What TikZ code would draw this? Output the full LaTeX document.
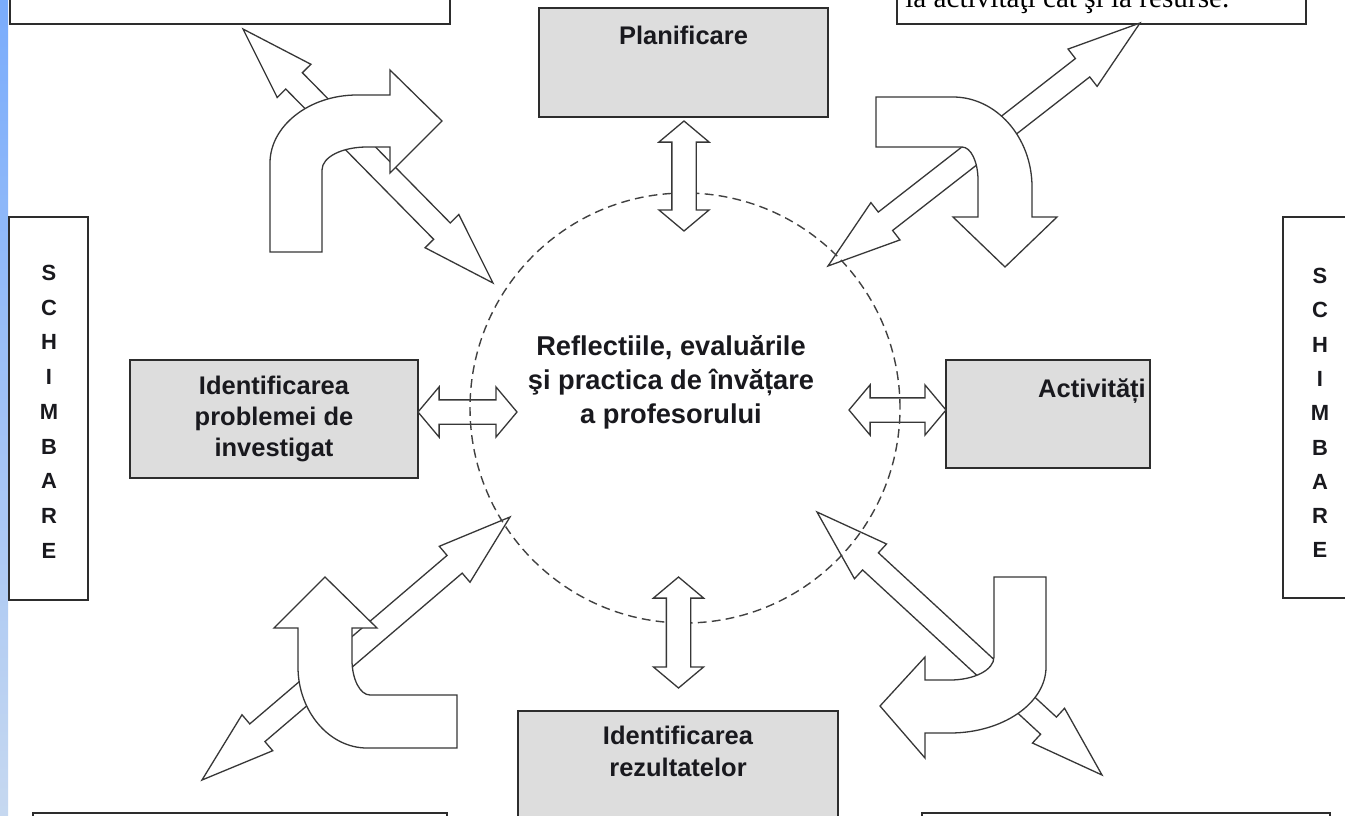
\documentclass[tikz,border=0pt]{standalone}
\usepackage{fontspec}
\setmainfont{Liberation Sans}
\newfontfamily\notefont{Liberation Serif}
\usetikzlibrary{shapes.arrows,calc,positioning}
\newlength{\pxlen}
\setlength{\pxlen}{0.02cm}
\definecolor{boxgray}{RGB}{221,221,221}
\definecolor{boxline}{RGB}{45,45,45}
\definecolor{arrowline}{RGB}{55,55,55}
\definecolor{ringgray}{RGB}{65,65,65}
\definecolor{textdark}{RGB}{25,25,30}
\definecolor{stripblue}{RGB}{122,172,252}
\definecolor{stripfade}{RGB}{198,216,240}
\newcommand{\linkarrow}[4]{%
    \path let \p1=($(#2)-(#1)$), \n1={veclen(\x1,\y1)} in
        (#1) -- node[#3, sloped, minimum height=\n1] (#4) {} (#2);%
}
\tikzset{
    outerbox/.style={draw=boxline, line width=1.5\pxlen, fill=white, inner sep=0pt},
    graybox/.style={draw=boxline, line width=1.5\pxlen, fill=boxgray, inner sep=0pt},
    boxtext/.style={font=\bfseries\fontsize{14.5}{17.9}\selectfont, text=textdark, align=center, inner sep=0pt},
    coretext/.style={font=\bfseries\fontsize{15.5}{19.3}\selectfont, text=textdark, align=center, inner sep=0pt},
    lettertext/.style={font=\bfseries\fontsize{12.5}{12.5}\selectfont, text=textdark, inner sep=0pt},
    corering/.style={circle, draw=ringgray, line width=1.4\pxlen, dash pattern=on 5pt off 3pt, minimum size=430\pxlen, inner sep=0pt},
    diagarrow/.style={double arrow, draw=arrowline, fill=white, line width=1.3\pxlen, inner xsep=0pt, inner ysep=11\pxlen, double arrow head extend=12\pxlen, double arrow tip angle=36},
    shortarrow/.style={double arrow, draw=arrowline, fill=white, line width=1.3\pxlen, inner xsep=0pt, inner ysep=11.5\pxlen, double arrow head extend=13\pxlen, double arrow tip angle=100},
    bentarrow/.style={draw=arrowline, fill=white, line width=1.3\pxlen, line join=miter}
}

\begin{document}
\begin{tikzpicture}[x=0.02cm, y=-0.02cm]
    \useasboundingbox (0,0) rectangle (1345,815);
    \clip (0,0) rectangle (1345,815);
    \fill[white] (0,0) rectangle (1345,815);
    \shade[top color=stripblue, bottom color=stripfade] (0,0) rectangle (8,815);

    \node[outerbox, minimum width=440\pxlen, minimum height=50\pxlen] (topLeft) at (230,-1) {};
    \node[outerbox, minimum width=409\pxlen, minimum height=50\pxlen] (topRight) at (1101.5,-1) {};
    \node[font=\notefont\fontsize{16.6}{18}\selectfont, anchor=base west, inner sep=0pt] (noteText) at (905,7) {la activităţi cât şi la resurse.};
    \node[outerbox, minimum width=414\pxlen, minimum height=50\pxlen] (bottomLeft) at (240,838) {};
    \node[outerbox, minimum width=408\pxlen, minimum height=50\pxlen] (bottomRight) at (1126,838) {};
    \node[outerbox, minimum width=79\pxlen, minimum height=383\pxlen] (changeLeft) at (48.5,408.5) {};
    \node[outerbox, minimum width=78\pxlen, minimum height=381\pxlen] (changeRight) at (1322,407.5) {};
    \foreach \ch [count=\i from 0] in {S,C,H,I,M,B,A,R,E} {
        \node[lettertext] (leftLetter\i) at (49,273+34.7*\i) {\ch};
        \node[lettertext] (rightLetter\i) at (1320,276+34.3*\i) {\ch};
    }

    \node[graybox, minimum width=289\pxlen, minimum height=109\pxlen] (plan) at (683.5,62.5) {};
    \node[boxtext, below=18.7\pxlen of plan.north] (planText) {Planificare};
    \node[graybox, boxtext, minimum width=288\pxlen, minimum height=118\pxlen] (prob) at (274,419) {Identificarea\\problemei de\\investigat};
    \node[graybox, minimum width=204\pxlen, minimum height=108\pxlen] (act) at (1048,414) {};
    \node[boxtext, anchor=base] (actText) at (1092,397) {Activități};
    \node[graybox, minimum width=320\pxlen, minimum height=140\pxlen] (rez) at (678,781) {};
    \node[boxtext, below=15.7\pxlen of rez.north] (rezText) {Identificarea\\rezultatelor};

    \coordinate (nwEnd) at (243,29);
    \coordinate (nwCore) at (493,283);
    \coordinate (neEnd) at (1140,23);
    \coordinate (neCore) at (828,266);
    \coordinate (swEnd) at (202,780);
    \coordinate (swCore) at (510,517);
    \coordinate (seEnd) at (1102,775);
    \coordinate (seCore) at (817,512);
    \linkarrow{nwEnd}{nwCore}{diagarrow}{nwArrow}
    \linkarrow{neEnd}{neCore}{diagarrow}{neArrow}
    \linkarrow{swEnd}{swCore}{diagarrow}{swArrow}
    \linkarrow{seEnd}{seCore}{diagarrow}{seArrow}

    \draw[bentarrow] (270,252) -- (270,163) .. controls (270,126) and (309,95) .. (357,95) -- (390,95) -- (390,70) -- (442,121) -- (390,173) -- (390,147) -- (367,147) .. controls (342,147) and (322,157) .. (322,170) -- (322,252) -- cycle;
    \draw[bentarrow] (876,97) -- (953,97) .. controls (996,97) and (1032,137) .. (1032,187) -- (1032,217) -- (1057,217) -- (1005,267) -- (953,217) -- (978,217) -- (978,180) .. controls (978,162) and (971,147) .. (962,147) -- (876,147) -- cycle;
    \draw[bentarrow] (325,577) -- (377,628) -- (352,628) -- (352,660) .. controls (352,679) and (360,695) .. (370,695) -- (457,695) -- (457,748) -- (367,748) .. controls (329,748) and (298,711) .. (298,667) -- (298,628) -- (274,628) -- cycle;
    \draw[bentarrow] (994,577) -- (1046,577) -- (1046,667) .. controls (1046,703) and (1003,733) .. (950,733) -- (925,733) -- (925,758) -- (880,706) -- (925,657) -- (925,680) -- (950,680) .. controls (974,680) and (994,670) .. (994,657) -- cycle;

    \coordinate (probEnd) at (418,412);
    \coordinate (probCore) at (517,412);
    \coordinate (actCore) at (849,410);
    \coordinate (actEnd) at (946,410);
    \linkarrow{probEnd}{probCore}{shortarrow}{probArrow}
    \linkarrow{actCore}{actEnd}{shortarrow}{actArrow}

    \node[corering] (core) at (685,408) {};
    \node[coretext, anchor=north] (coreText) at (671,335) {Reflectiile, evaluările\\şi practica de învățare\\a profesorului};

    \coordinate (planEnd) at (684,121);
    \coordinate (planCore) at (684,231);
    \coordinate (rezCore) at (678.5,577);
    \coordinate (rezEnd) at (678.5,688);
    \linkarrow{planEnd}{planCore}{shortarrow}{planArrow}
    \linkarrow{rezCore}{rezEnd}{shortarrow}{rezArrow}
\end{tikzpicture}
\end{document}
